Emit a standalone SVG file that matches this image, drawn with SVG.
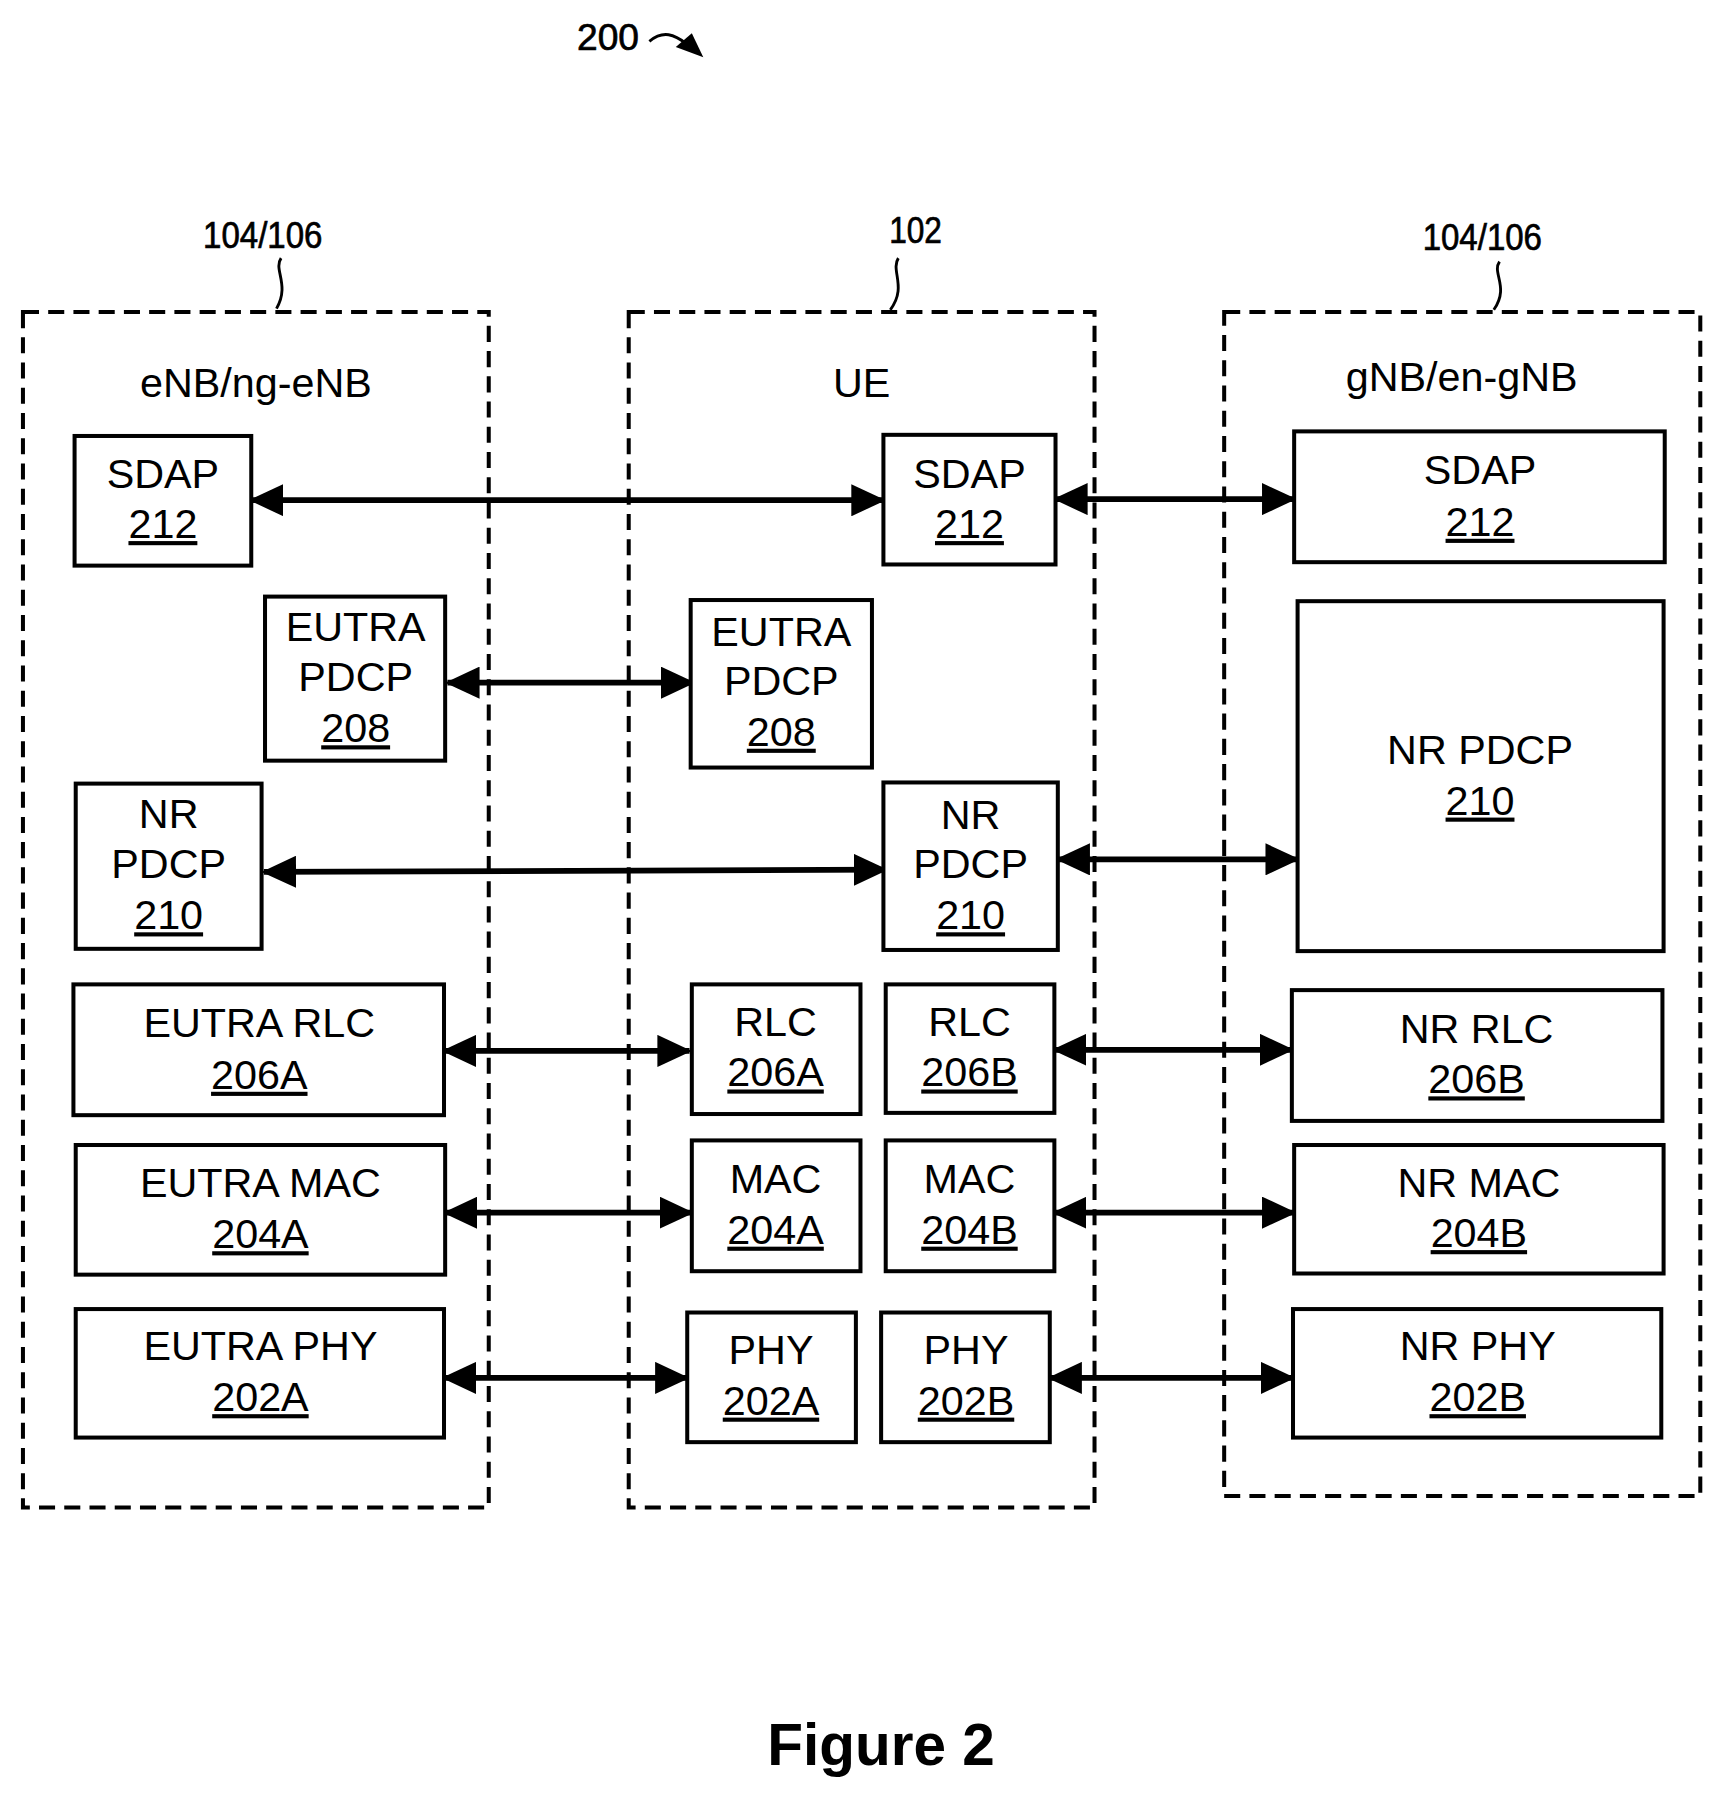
<svg xmlns="http://www.w3.org/2000/svg" width="1721" height="1797" viewBox="0 0 1721 1797">
<style>
text{font-family:"Liberation Sans",Arial,sans-serif;fill:#000}
.b{font-size:36px;text-anchor:middle}
.u{text-decoration:underline}
.r{font-size:32px;text-anchor:middle;stroke:#000;stroke-width:0.6}
.box{fill:#fff;stroke:#000;stroke-width:3.5}
.dash{fill:none;stroke:#000;stroke-width:3.5;stroke-dasharray:14 8}
.c{stroke:#000;stroke-width:5;fill:none;marker-start:url(#a);marker-end:url(#a)}
.sq{fill:none;stroke:#000;stroke-width:2.5}
.fig{font-size:51px;font-weight:bold;text-anchor:middle}
</style>
<defs>
<marker id="a" markerUnits="userSpaceOnUse" viewBox="0 0 30 28" refX="28" refY="14" markerWidth="30" markerHeight="28" orient="auto-start-reverse"><path d="M0,0 L30,14 L0,28 Z" fill="#000"/></marker>
</defs>
<rect width="1721" height="1797" fill="#fff"/>
<g transform="scale(1.1473)">
<g id="labels">
<text x="530" y="44" class="r" textLength="54" lengthAdjust="spacingAndGlyphs">200</text>
<path d="M566,36 C578,26 588,30 598,38" class="sq" stroke-width="3"/>
<path d="M589,41 L613,50 L603,29 Z" fill="#000"/>
<text x="229" y="216" class="r" textLength="104" lengthAdjust="spacingAndGlyphs">104/106</text>
<text x="798" y="212" class="r" textLength="46" lengthAdjust="spacingAndGlyphs">102</text>
<text x="1292" y="218" class="r" textLength="104" lengthAdjust="spacingAndGlyphs">104/106</text>
<path d="M245,225 C238,235 253,248 241,269" class="sq"/>
<path d="M783,225 C776,236 791,250 776,270" class="sq"/>
<path d="M1307,228 C1300,238 1316,250 1302,270" class="sq"/>
<text x="223" y="346" class="b">eNB/ng-eNB</text>
<text x="751" y="346" class="b">UE</text>
<text x="1274" y="341" class="b">gNB/en-gNB</text>
<text x="768" y="1538" class="fig">Figure 2</text>
</g>
<g id="enb"><rect x="20" y="272" width="406" height="1042" class="dash"/></g>
<g id="ue"><rect x="548" y="272" width="406" height="1042" class="dash"/></g>
<g id="gnb"><rect x="1067" y="272" width="415" height="1032" class="dash"/></g>
<g id="connectors">
<line x1="219" y1="436" x2="770" y2="436" class="c"/>
<line x1="920" y1="435" x2="1128" y2="435" class="c"/>
<line x1="390" y1="595" x2="604" y2="595" class="c"/>
<line x1="230" y1="760" x2="772" y2="758" class="c"/>
<line x1="922" y1="749" x2="1131" y2="749" class="c"/>
<line x1="387" y1="916" x2="601" y2="916" class="c"/>
<line x1="919" y1="915" x2="1126" y2="915" class="c"/>
<line x1="388" y1="1057" x2="603" y2="1057" class="c"/>
<line x1="919" y1="1057" x2="1128" y2="1057" class="c"/>
<line x1="387" y1="1201" x2="599" y2="1201" class="c"/>
<line x1="915" y1="1201" x2="1127" y2="1201" class="c"/>
</g>
<g id="sdap-l"><rect x="65" y="380" width="154" height="113" class="box"/><text x="142" y="425" class="b">SDAP</text><text x="142" y="469" class="b u">212</text></g>
<g id="sdap-m"><rect x="770" y="379" width="150" height="113" class="box"/><text x="845" y="425" class="b">SDAP</text><text x="845" y="469" class="b u">212</text></g>
<g id="sdap-r"><rect x="1128" y="376" width="323" height="114" class="box"/><text x="1290" y="422" class="b">SDAP</text><text x="1290" y="467" class="b u">212</text></g>
<g id="eutra-pdcp-l"><rect x="231" y="520" width="157" height="143" class="box"/><text x="310" y="559" class="b">EUTRA</text><text x="310" y="602" class="b">PDCP</text><text x="310" y="647" class="b u">208</text></g>
<g id="eutra-pdcp-m"><rect x="602" y="523" width="158" height="146" class="box"/><text x="681" y="563" class="b">EUTRA</text><text x="681" y="606" class="b">PDCP</text><text x="681" y="650" class="b u">208</text></g>
<g id="nr-pdcp-r"><rect x="1131" y="524" width="319" height="305" class="box"/><text x="1290" y="666" class="b">NR PDCP</text><text x="1290" y="710" class="b u">210</text></g>
<g id="nr-pdcp-l"><rect x="66" y="683" width="162" height="144" class="box"/><text x="147" y="722" class="b">NR</text><text x="147" y="765" class="b">PDCP</text><text x="147" y="810" class="b u">210</text></g>
<g id="nr-pdcp-m"><rect x="770" y="682" width="152" height="146" class="box"/><text x="846" y="723" class="b">NR</text><text x="846" y="765" class="b">PDCP</text><text x="846" y="810" class="b u">210</text></g>
<g id="eutra-rlc"><rect x="64" y="858" width="323" height="114" class="box"/><text x="226" y="904" class="b">EUTRA RLC</text><text x="226" y="949" class="b u">206A</text></g>
<g id="rlc-a"><rect x="603" y="858" width="147" height="113" class="box"/><text x="676" y="903" class="b">RLC</text><text x="676" y="947" class="b u">206A</text></g>
<g id="rlc-b"><rect x="772" y="858" width="147" height="112" class="box"/><text x="845" y="903" class="b">RLC</text><text x="845" y="947" class="b u">206B</text></g>
<g id="nr-rlc"><rect x="1126" y="863" width="323" height="114" class="box"/><text x="1287" y="909" class="b">NR RLC</text><text x="1287" y="953" class="b u">206B</text></g>
<g id="eutra-mac"><rect x="66" y="998" width="322" height="113" class="box"/><text x="227" y="1043" class="b">EUTRA MAC</text><text x="227" y="1088" class="b u">204A</text></g>
<g id="mac-a"><rect x="603" y="994" width="147" height="114" class="box"/><text x="676" y="1040" class="b">MAC</text><text x="676" y="1084" class="b u">204A</text></g>
<g id="mac-b"><rect x="772" y="994" width="147" height="114" class="box"/><text x="845" y="1040" class="b">MAC</text><text x="845" y="1084" class="b u">204B</text></g>
<g id="nr-mac"><rect x="1128" y="998" width="322" height="112" class="box"/><text x="1289" y="1043" class="b">NR MAC</text><text x="1289" y="1087" class="b u">204B</text></g>
<g id="eutra-phy"><rect x="66" y="1141" width="321" height="112" class="box"/><text x="227" y="1185" class="b">EUTRA PHY</text><text x="227" y="1230" class="b u">202A</text></g>
<g id="phy-a"><rect x="599" y="1144" width="147" height="113" class="box"/><text x="672" y="1189" class="b">PHY</text><text x="672" y="1233" class="b u">202A</text></g>
<g id="phy-b"><rect x="768" y="1144" width="147" height="113" class="box"/><text x="842" y="1189" class="b">PHY</text><text x="842" y="1233" class="b u">202B</text></g>
<g id="nr-phy"><rect x="1127" y="1141" width="321" height="112" class="box"/><text x="1288" y="1185" class="b">NR PHY</text><text x="1288" y="1230" class="b u">202B</text></g>
</g>
</svg>
